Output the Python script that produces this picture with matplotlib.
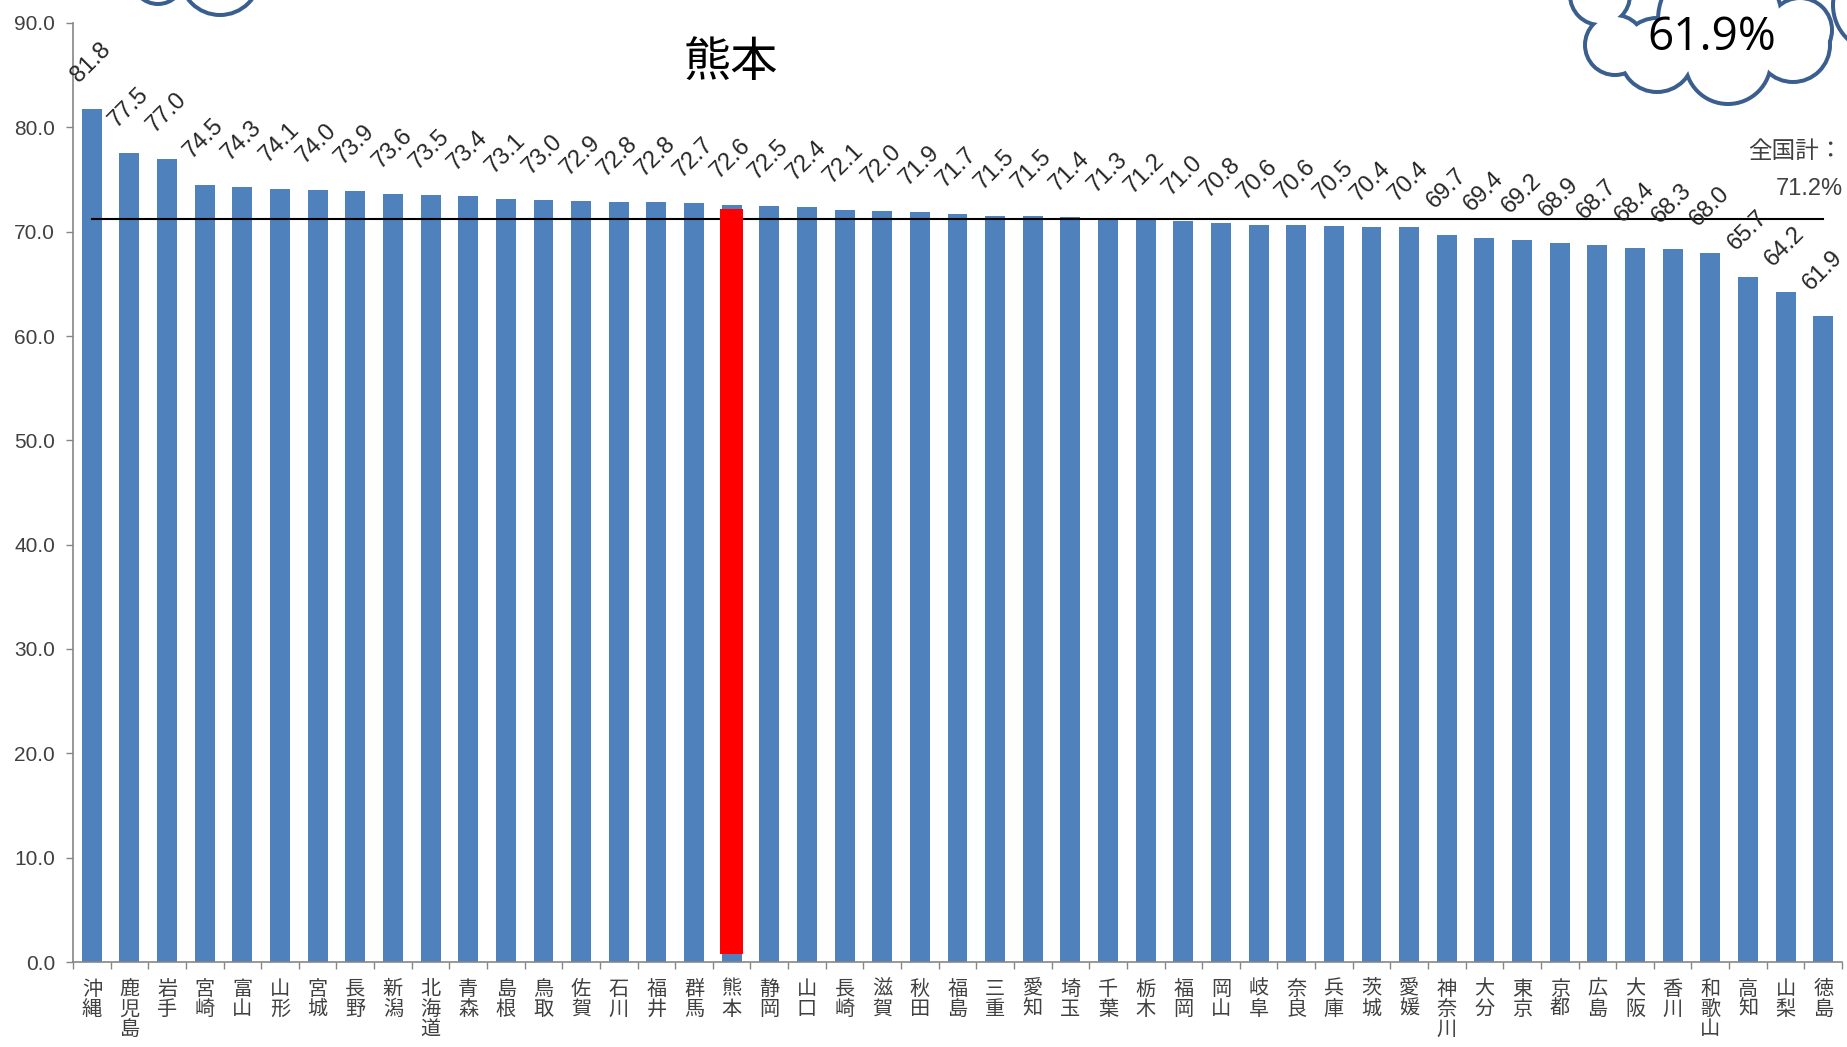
import matplotlib
matplotlib.use("Agg")
import matplotlib.pyplot as plt
from matplotlib.patches import Circle

# data
prefs = ["沖縄", "鹿児島", "岩手", "宮崎", "富山", "山形", "宮城", "長野", "新潟", "北海道",
         "青森", "島根", "鳥取", "佐賀", "石川", "福井", "群馬", "熊本", "静岡", "山口",
         "長崎", "滋賀", "秋田", "福島", "三重", "愛知", "埼玉", "千葉", "栃木", "福岡",
         "岡山", "岐阜", "奈良", "兵庫", "茨城", "愛媛", "神奈川", "大分", "東京", "京都",
         "広島", "大阪", "香川", "和歌山", "高知", "山梨", "徳島"]
values = [81.8, 77.5, 77.0, 74.5, 74.3, 74.1, 74.0, 73.9, 73.6, 73.5,
          73.4, 73.1, 73.0, 72.9, 72.8, 72.8, 72.7, 72.6, 72.5, 72.4,
          72.1, 72.0, 71.9, 71.7, 71.5, 71.5, 71.4, 71.3, 71.2, 71.0,
          70.8, 70.6, 70.6, 70.5, 70.4, 70.4, 69.7, 69.4, 69.2, 68.9,
          68.7, 68.4, 68.3, 68.0, 65.7, 64.2, 61.9]
national = 71.2
highlight = "熊本"
highlight_range = (0.8, 72.2)   # red marker drawn over the bar
lowest_text = "61.9%"
yticks = [0, 10, 20, 30, 40, 50, 60, 70, 80, 90]

bar_color = "#4f81bd"
axis_gray = "#868686"
cloud_color = "#3a5f8f"

W, H = 1847, 1047
fig = plt.figure(figsize=(W / 100, H / 100), dpi=100)
ax = fig.add_axes([73 / W, 1 - 962 / H, (1842 - 73) / W, (962 - 23) / H])

x = list(range(len(prefs)))
ax.bar(x, values, width=0.53, color=bar_color, zorder=2)

# national average line
ax.plot(x, [national] * len(x), color="black", lw=1.5, zorder=3)

# red marker on 熊本
hi = prefs.index(highlight)
ax.bar(hi, highlight_range[1] - highlight_range[0], bottom=highlight_range[0],
       width=0.6, color="#ff0000", zorder=4)

# value labels
for i, v in zip(x, values):
    ax.annotate(f"{v:.1f}", xy=(i, v), xytext=(-9, 22), textcoords="offset pixels",
                rotation=45, ha="left", va="bottom", rotation_mode="anchor",
                fontsize=17, family="Liberation Sans", color="#262626", zorder=5)

ax.set_xlim(-0.5, len(prefs) - 0.5)
ax.set_ylim(0, 90)
ax.set_yticks(yticks)
ax.set_yticklabels([f"{t:.1f}" for t in yticks], fontsize=15,
                   family="Liberation Sans", color="#404040")

# ticks at category boundaries, labels at centers
ax.set_xticks([i - 0.5 for i in range(len(prefs) + 1)])
ax.set_xticklabels([])
ax.set_xticks(x, minor=True)
ax.set_xticklabels(["\n".join(p) for p in prefs], minor=True, fontsize=14.5,
                   family=["Noto Sans CJK JP", "DejaVu Sans"], color="#404040",
                   linespacing=0.95, va="top")
ax.tick_params(axis="x", which="major", direction="out", length=5, color=axis_gray, width=1)
ax.tick_params(axis="x", which="minor", length=0, pad=12)
ax.tick_params(axis="y", direction="out", length=5, color=axis_gray, width=1, pad=8)

for s in ["top", "right"]:
    ax.spines[s].set_visible(False)
for s in ["left", "bottom"]:
    ax.spines[s].set_color(axis_gray)
    ax.spines[s].set_linewidth(1.2)

# overlay in pixel coordinates for annotations
ov = fig.add_axes([0, 0, 1, 1], zorder=10)
ov.set_xlim(0, W)
ov.set_ylim(H, 0)
ov.axis("off")
ov.patch.set_alpha(0)

ov.text(1843, 151, "全国計：", ha="right", va="center",
        fontsize=17, family="Noto Sans CJK JP", color="#404040")
ov.text(1843, 189, f"{national}%", ha="right", va="center", fontsize=17,
        family="Liberation Sans", color="#404040")

ov.text(731, 63, highlight, ha="center", va="center", fontsize=34,
        family="Noto Sans CJK JP", color="black")


def cloud(circles, lw=8):
    for cx, cy, r in circles:
        ov.add_patch(Circle((cx, cy), r, facecolor="none", edgecolor=cloud_color, lw=lw * 0.72))
    for cx, cy, r in circles:
        ov.add_patch(Circle((cx, cy), r, facecolor="white", edgecolor="none"))


cloud([(1600, -5, 28), (1615, 45, 28), (1657, 55, 35), (1728, 61, 41),
       (1793, 45, 35), (1800, 30, 30), (1880, 5, 45), (1720, 20, 60)])
cloud([(158, -22, 24), (220, -25, 38)])

ov.text(1712, 38, lowest_text, ha="center", va="center", fontsize=33,
        family="Open Sans", color="black")

fig.savefig("out.png", dpi=100)
